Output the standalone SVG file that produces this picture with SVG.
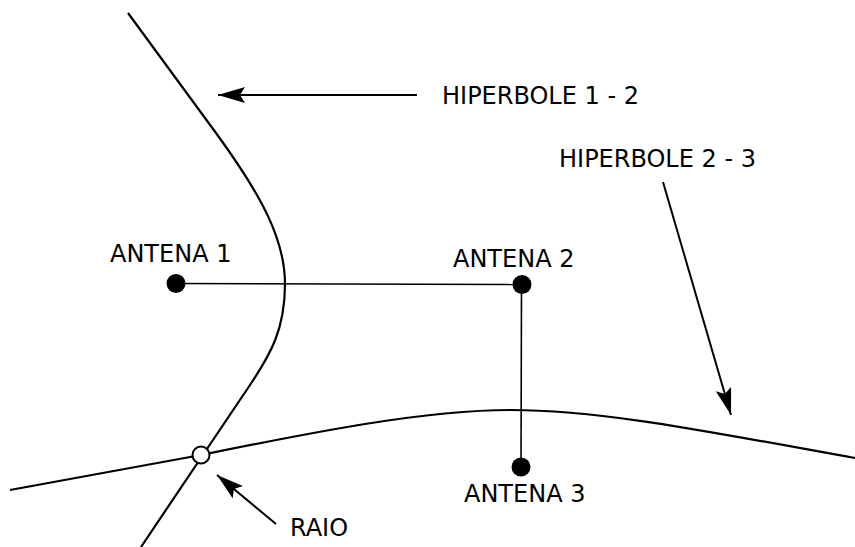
<svg xmlns="http://www.w3.org/2000/svg" width="855" height="547" viewBox="0 0 855 547">
<style>
.t{font-family:"DejaVu Sans",sans-serif;font-size:24px;fill:#000}
.c{fill:none;stroke:#000;stroke-width:2.2}
.l{fill:none;stroke:#000;stroke-width:1.6}
.a{fill:none;stroke:#000;stroke-width:2}
</style>
<defs>
<marker id="ah" markerUnits="userSpaceOnUse" markerWidth="30" markerHeight="18" refX="27" refY="8" orient="auto">
<path d="M0,0 L27,8 L0,16 L5,8 z" fill="#000"/>
</marker>
</defs>
<g id="connectors">
<path id="hip12" class="c" d="M128,13 L216,133 C262,196 285,240 285,284 C285,330 270,355 250,385 L141,547"/>
<path id="hip23" class="c" d="M10,490 L201,455 C300,435 420,410 510,410 C600,410 700,430 855,458"/>
<line class="l" x1="176" y1="283.5" x2="522" y2="284.5"/>
<line class="l" x1="521.5" y1="284" x2="521" y2="467"/>
<line class="a" x1="417" y1="95" x2="218" y2="95" marker-end="url(#ah)"/>
<line class="a" x1="663" y1="182" x2="731" y2="415" marker-end="url(#ah)"/>
<line class="a" x1="276" y1="524" x2="217" y2="475" marker-end="url(#ah)"/>
</g>
<g id="raio"><circle cx="201" cy="455" r="8.5" fill="#fff" stroke="#000" stroke-width="2"/><text class="t" x="290" y="536">RAIO</text></g>
<g id="antena1"><circle cx="176" cy="283.5" r="9.5" fill="#000"/><text class="t" x="110" y="262">ANTENA 1</text></g>
<g id="antena2"><circle cx="522" cy="284.5" r="9.5" fill="#000"/><text class="t" x="453" y="267">ANTENA 2</text></g>
<g id="antena3"><circle cx="521" cy="467" r="9.5" fill="#000"/><text class="t" x="464" y="502">ANTENA 3</text></g>
<g id="label12"><text class="t" x="442" y="104">HIPERBOLE 1 - 2</text></g>
<g id="label23"><text class="t" x="559" y="167">HIPERBOLE 2 - 3</text></g>
</svg>
